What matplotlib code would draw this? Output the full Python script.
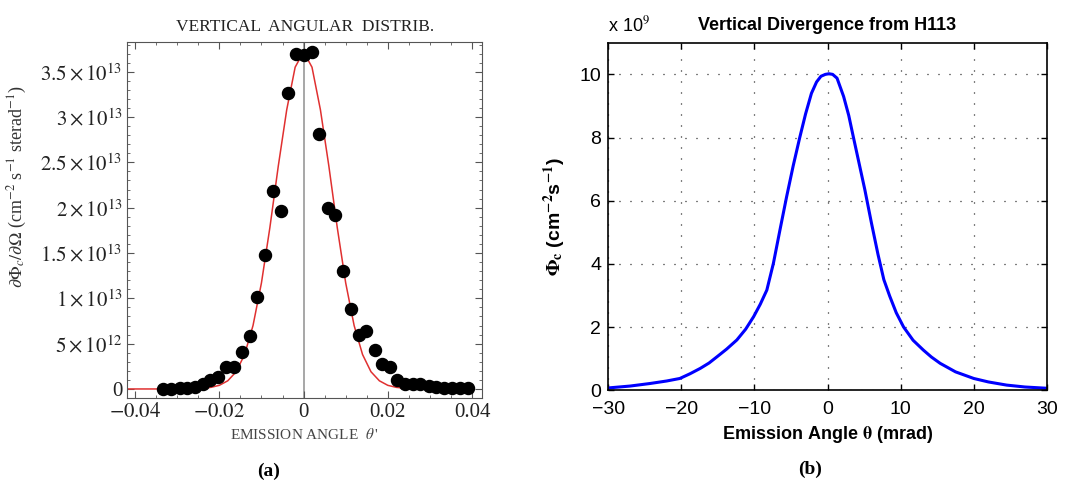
import numpy as np
import matplotlib
matplotlib.use("Agg")
import matplotlib.pyplot as plt
from matplotlib.ticker import MultipleLocator, FixedLocator, FixedFormatter

plt.rcParams['mathtext.fontset'] = 'stix'

# (a) measured points, angle in rad, flux in 1e13
pts_x = [-0.0334, -0.0314, -0.0294, -0.0276, -0.0257, -0.0239, -0.0221, -0.0202,
         -0.0184, -0.0164, -0.0146, -0.0127, -0.0110, -0.0091, -0.0073, -0.0053,
         -0.0037, -0.0019, 0.0001, 0.0021, 0.0036, 0.0058, 0.0075, 0.0093,
         0.0112, 0.0131, 0.0149, 0.0169, 0.0187, 0.0206, 0.0222, 0.0240,
         0.0259, 0.0277, 0.0297, 0.0314, 0.0334, 0.0352, 0.0371, 0.0390]
pts_y = [0.00, 0.00, 0.01, 0.015, 0.02, 0.055, 0.10, 0.13,
         0.24, 0.245, 0.405, 0.585, 1.02, 1.475, 2.185, 1.965,
         3.27, 3.70, 3.68, 3.72, 2.81, 2.00, 1.92, 1.306,
         0.88, 0.596, 0.64, 0.43, 0.28, 0.246, 0.096, 0.06,
         0.05, 0.05, 0.03, 0.02, 0.015, 0.01, 0.01, 0.01]

# (a) fitted red curve
fit_x = [-0.042, -0.030, -0.026, -0.024, -0.022, -0.020, -0.018, -0.016, -0.014,
         -0.012, -0.010, -0.008, -0.006, -0.004, -0.002, 0.0, 0.002, 0.004,
         0.006, 0.008, 0.010, 0.012, 0.014, 0.016, 0.018, 0.020, 0.022, 0.024,
         0.026, 0.030, 0.040]
fit_y = [0.0, 0.0, 0.003, 0.008, 0.018, 0.04, 0.09, 0.19, 0.38,
         0.70, 1.17, 1.78, 2.46, 3.08, 3.55, 3.72, 3.55, 3.08,
         2.46, 1.78, 1.17, 0.70, 0.38, 0.19, 0.09, 0.04, 0.018, 0.008,
         0.003, 0.0, 0.0]

ytick_vals = [0, 0.5, 1.0, 1.5, 2.0, 2.5, 3.0, 3.5]
ytick_txt = ['0', r'$5\times10^{12}$', r'$1\times10^{13}$', r'$1.5\times10^{13}$',
             r'$2\times10^{13}$', r'$2.5\times10^{13}$', r'$3\times10^{13}$',
             r'$3.5\times10^{13}$']

# (b) vertical divergence, mrad vs 1e9 cm^-2 s^-1
div_x = [-30, -27, -24.3, -22, -20.2, -18.8, -17.4, -16.2, -15.1, -13.8, -12.4,
         -11.2, -10.1, -9.2, -8.3, -7.4, -6.5, -5.6, -4.7, -3.8, -3.0, -2.2,
         -1.5, -0.9, -0.3, 0.2, 0.7, 1.3, 2.2, 2.9, 3.5, 4.3, 5.1, 6.0, 6.9,
         7.7, 8.5, 9.4, 10.4, 11.7, 13.1, 14.2, 15.4, 17.5, 20, 22, 24.5, 27, 30]
div_y = [0.07, 0.13, 0.21, 0.29, 0.37, 0.52, 0.69, 0.86, 1.06, 1.30, 1.59,
         1.93, 2.33, 2.72, 3.17, 4.02, 5.08, 6.12, 7.10, 8.00, 8.75, 9.40,
         9.76, 9.94, 10.0, 10.02, 10.0, 9.88, 9.30, 8.70, 8.05, 7.20, 6.35, 5.30, 4.30,
         3.50, 2.98, 2.45, 2.00, 1.58, 1.27, 1.05, 0.85, 0.58, 0.37, 0.26, 0.16, 0.10, 0.06]

fig = plt.figure(figsize=(10.86, 4.92), dpi=100)

# ---- panel (a), Mathematica look
serif = ['Liberation Serif', 'DejaVu Serif']
ax1 = fig.add_axes([0.117, 0.191, 0.327, 0.724])
ax1.axvline(0, color='#a0a0a0', lw=1.3, zorder=1)
ax1.plot(fit_x, fit_y, color='#e03030', lw=1.1, zorder=2)
ax1.scatter(pts_x, pts_y, s=75, color='black', zorder=3)
ax1.set_xlim(-0.0419, 0.0424)
ax1.set_ylim(-0.1, 3.83)
ax1.xaxis.set_major_locator(FixedLocator([-0.04, -0.02, 0, 0.02, 0.04]))
ax1.xaxis.set_major_formatter(FixedFormatter(['$-0.04$', '$-0.02$', '0', '0.02', '0.04']))
ax1.xaxis.set_minor_locator(MultipleLocator(0.005))
ax1.yaxis.set_major_locator(FixedLocator(ytick_vals))
ax1.yaxis.set_major_formatter(FixedFormatter(ytick_txt))
ax1.yaxis.set_minor_locator(MultipleLocator(0.1))
ax1.tick_params(which='both', direction='in', top=True, right=True, color='#555555')
ax1.tick_params(which='major', length=5, labelsize=15, labelcolor='#222222')
ax1.tick_params(which='minor', length=2.5)
for lab in ax1.get_xticklabels() + ax1.get_yticklabels():
    lab.set_family(serif)
for s in ax1.spines.values():
    s.set_color('#555555')
ax1.set_title('VERTICAL  ANGULAR  DISTRIB.', family=serif, fontsize=12.5,
              color='#222222', pad=8)
ax1.set_xlabel(r"EMISSION ANGLE  $\theta\,$'", family=serif, fontsize=11,
               color='#444444', labelpad=4)
ax1.set_ylabel(r'$\partial\Phi_c/\partial\Omega$ (cm$^{-2}$ s$^{-1}$ sterad$^{-1}$)',
               family=serif, fontsize=13, color='#333333', va='center')
ax1.yaxis.set_label_coords(-0.31, 0.593)

# ---- panel (b), MATLAB look
sans = ['Liberation Sans', 'DejaVu Sans']
ax2 = fig.add_axes([0.56, 0.207, 0.404, 0.706])
ax2.plot(div_x, div_y, color='#0000ff', lw=2.2)
ax2.set_xlim(-30, 30)
ax2.set_ylim(0, 11)
ax2.set_xticks(np.arange(-30, 31, 10))
ax2.set_yticks(np.arange(0, 11, 2))
ax2.set_xticklabels(['\u221230', '\u221220', '\u221210', '0', '10', '20', '30'])
ax2.grid(True, color='black', lw=0.9, linestyle=(0, (0.8, 8)))
ax2.tick_params(direction='in', top=True, right=True, length=4, width=1,
                labelsize=14)
ax2.tick_params(axis='x', pad=8)
ax2.tick_params(axis='y', pad=5)
for lab in ax2.get_xticklabels() + ax2.get_yticklabels():
    lab.set_family(sans)
for s in ax2.spines.values():
    s.set_linewidth(1.2)
ax2.set_title('Vertical Divergence from H113', family=sans, fontsize=13,
              fontweight='bold', pad=9)
ax2.text(0.0, 1.02, r'x 10$^{9}$', transform=ax2.transAxes, family=sans,
         fontsize=13, ha='left', va='bottom')
ax2.set_xlabel(r'Emission Angle $\mathbf{\theta}$ (mrad)', family=sans, fontsize=13,
               fontweight='bold', labelpad=4)
ax2.set_ylabel(r'$\mathbf{\Phi_c}$ (cm$^{\mathbf{-2}}$s$^{\mathbf{-1}}$)', family=sans,
               fontsize=14, fontweight='bold', labelpad=8)

# sub-figure labels
fig.text(0.247, 0.043, '(a)', family=serif, fontsize=14, fontweight='bold',
         ha='center', va='center')
fig.text(0.746, 0.047, '(b)', family=serif, fontsize=14, fontweight='bold',
         ha='center', va='center')

fig.savefig('out.png', dpi=100)
